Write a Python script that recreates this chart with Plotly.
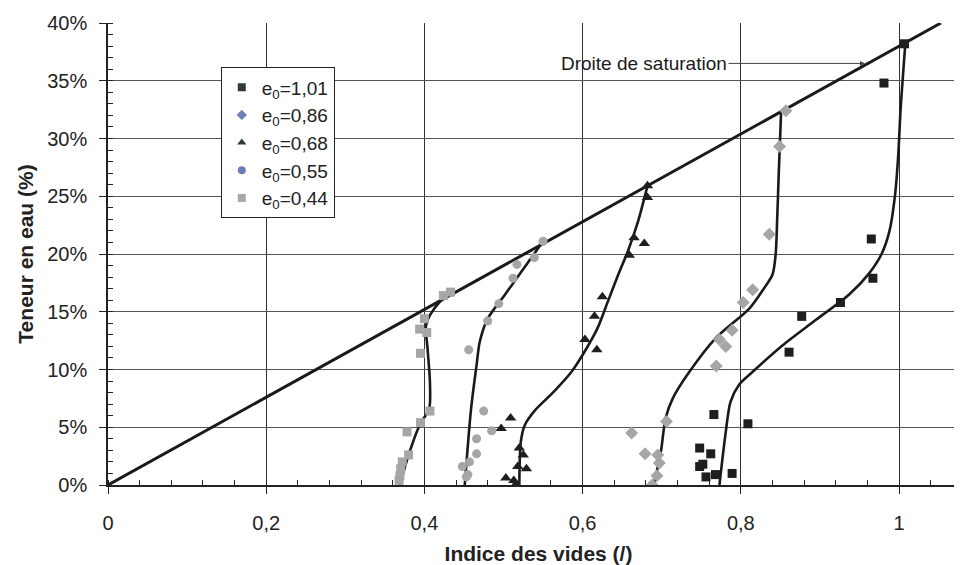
import plotly.graph_objects as go

# Mesures (indice des vides e, teneur en eau w en %)
e_101 = [1.007, 0.981, 0.965, 0.967, 0.926, 0.877, 0.861, 0.809, 0.766, 0.748, 0.762, 0.748, 0.752, 0.756, 0.768, 0.789]
w_101 = [38.2, 34.8, 21.3, 17.9, 15.8, 14.6, 11.5, 5.3, 6.1, 3.2, 2.7, 1.6, 1.8, 0.7, 0.9, 1.0]

e_086 = [0.857, 0.849, 0.836, 0.815, 0.803, 0.789, 0.773, 0.781, 0.769, 0.706, 0.662, 0.679, 0.695, 0.697, 0.694, 0.688]
w_086 = [32.4, 29.3, 21.7, 16.9, 15.8, 13.4, 12.6, 12.0, 10.3, 5.5, 4.5, 2.7, 2.6, 1.9, 0.8, 0.0]

e_068 = [0.682, 0.682, 0.665, 0.678, 0.659, 0.625, 0.615, 0.618, 0.603, 0.509, 0.497, 0.520, 0.525, 0.518, 0.529, 0.503, 0.513, 0.515]
w_068 = [25.9, 24.9, 21.4, 20.9, 19.9, 16.3, 14.6, 11.7, 12.6, 5.8, 4.9, 3.2, 2.6, 1.6, 1.4, 0.6, 0.4, 0.0]

e_055 = [0.550, 0.539, 0.517, 0.512, 0.494, 0.480, 0.456, 0.475, 0.485, 0.466, 0.466, 0.448, 0.457, 0.455, 0.453]
w_055 = [21.1, 19.7, 19.1, 17.9, 15.7, 14.2, 11.7, 6.4, 4.7, 4.0, 2.7, 1.6, 2.0, 0.9, 0.7]

e_044 = [0.433, 0.424, 0.400, 0.394, 0.403, 0.395, 0.407, 0.395, 0.378, 0.380, 0.372, 0.370, 0.369, 0.368]
w_044 = [16.7, 16.4, 14.4, 13.5, 13.2, 11.4, 6.4, 5.4, 4.6, 2.6, 2.0, 1.4, 0.8, 0.4]

# Courbes de tendance tracees a la main
ce_101 = [0.773, 0.781, 0.787, 0.798, 0.815, 0.853, 0.895, 0.937, 0.962, 0.978, 0.988, 0.995, 0.999, 1.002, 1.008]
cw_101 = [0.0, 4.6, 7.2, 8.7, 9.8, 12.1, 14.3, 16.5, 18.3, 20.0, 22.0, 25.1, 28.5, 32.5, 38.2]

ce_086 = [0.690, 0.699, 0.705, 0.714, 0.735, 0.768, 0.811, 0.829, 0.840, 0.844, 0.846, 0.848, 0.851]
cw_086 = [0.0, 2.9, 5.8, 7.5, 9.8, 12.7, 15.3, 17.0, 18.2, 19.9, 23.0, 27.0, 32.4]

ce_068 = [0.520, 0.522, 0.527, 0.539, 0.564, 0.586, 0.603, 0.619, 0.632, 0.645, 0.657, 0.670, 0.682]
cw_068 = [0.0, 3.8, 5.2, 6.4, 8.1, 9.8, 11.6, 13.6, 15.9, 18.2, 20.2, 22.8, 25.9]

ce_055 = [0.451, 0.459, 0.466, 0.470, 0.480, 0.502, 0.523, 0.548]
cw_055 = [0.0, 6.6, 10.4, 12.4, 14.4, 16.5, 18.5, 20.9]

ce_044 = [0.369, 0.380, 0.394, 0.406, 0.407, 0.404, 0.402, 0.407, 0.420, 0.434]
cw_044 = [0.0, 2.6, 5.2, 6.6, 8.9, 11.8, 13.8, 14.7, 15.9, 16.7]

# Droite de saturation
e_sat = [0, 1.053]
w_sat = [0, 40.0]

FONT = "Liberation Sans, Arial, sans-serif"

fig = go.Figure()

fig.add_trace(go.Scatter(x=e_sat, y=[w / 100 for w in w_sat], mode="lines",
                         line=dict(color="#1a1a1a", width=3), showlegend=False))

curves = [(ce_101, cw_101), (ce_086, cw_086), (ce_068, cw_068), (ce_055, cw_055), (ce_044, cw_044)]
for ce, cw in curves:
    fig.add_trace(go.Scatter(x=ce, y=[w / 100 for w in cw], mode="lines",
                             line=dict(color="#1a1a1a", width=2.6, shape="spline", smoothing=0.8),
                             showlegend=False))

points = [
    (e_101, w_101, "square", "#1e1e1e", 9),
    (e_086, w_086, "diamond", "#a6a6a6", 10),
    (e_068, w_068, "triangle-up", "#1e1e1e", 10),
    (e_055, w_055, "circle", "#a6a6a6", 9),
    (e_044, w_044, "square", "#a6a6a6", 9),
]
for ex, wy, sym, col, sz in points:
    fig.add_trace(go.Scatter(x=ex, y=[w / 100 for w in wy], mode="markers",
                             marker=dict(symbol=sym, color=col, size=sz),
                             showlegend=False))

# legende (couleurs de la legende d'origine)
legend_items = [
    ("e<sub>0</sub>=1,01", "square", "#2e3b3b"),
    ("e<sub>0</sub>=0,86", "diamond", "#6e7db8"),
    ("e<sub>0</sub>=0,68", "triangle-up", "#2e3b3b"),
    ("e<sub>0</sub>=0,55", "circle", "#6e7db8"),
    ("e<sub>0</sub>=0,44", "square", "#a8a8a8"),
]
for name, sym, col in legend_items:
    fig.add_trace(go.Scatter(x=[None], y=[None], mode="markers", name=name,
                             marker=dict(symbol=sym, color=col, size=8)))

fig.add_annotation(x=0.957, y=0.365, xref="x", yref="y", text="Droite de saturation",
                   showarrow=True, ax=-221, ay=0, arrowhead=2, arrowsize=1, arrowwidth=1,
                   arrowcolor="#444", font=dict(size=19, color="#1a1a1a", family=FONT))

fig.update_layout(
    width=962, height=565,
    margin=dict(l=100, r=1, t=15, b=88),
    plot_bgcolor="white", paper_bgcolor="white",
    separators=", ",
    font=dict(family=FONT, size=20, color="#222"),
    legend=dict(x=0.131, y=0.904, xanchor="left", yanchor="top",
                bordercolor="#222", borderwidth=1, bgcolor="white",
                font=dict(size=19)),
    xaxis=dict(
        range=[0, 1.0885], dtick=0.2, tick0=0, automargin=False,
        showgrid=True, gridcolor="#333", gridwidth=1,
        showline=True, linecolor="#222", linewidth=1.5,
        ticks="outside", ticklen=7, tickcolor="#222", ticklabelstandoff=12,
        minor=dict(dtick=0.04, ticks="inside", ticklen=5, tickcolor="#222", showgrid=False),
        zeroline=False,
        title=dict(text="<b>Indice des vides (/)</b>", font=dict(size=21), standoff=14),
    ),
    yaxis=dict(
        range=[0, 0.40], dtick=0.05, tickformat=".0%", automargin=False,
        showgrid=True, gridcolor="#555", gridwidth=1,
        showline=True, linecolor="#222", linewidth=1.5,
        ticks="outside", ticklen=7, tickcolor="#222", ticklabelstandoff=8,
        minor=dict(dtick=0.01, ticks="inside", ticklen=5, tickcolor="#222", showgrid=False),
        zeroline=False,
        title=dict(text="<b>Teneur en eau (%)</b>", font=dict(size=21), standoff=8),
    ),
)

fig.write_html("out.html")
